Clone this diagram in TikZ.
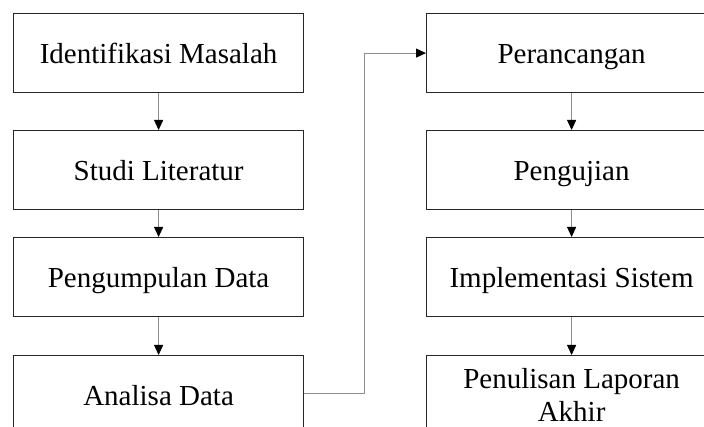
\documentclass[tikz,border=0pt]{standalone}
\usepackage{fontspec}
\setmainfont{Liberation Serif}
\usetikzlibrary{arrows.meta}
\begin{document}
\begin{tikzpicture}[x=1pt,y=-1pt,
  box/.style={draw=black!85,line width=1.2pt,minimum width=290pt,minimum height=79pt,
    inner sep=0pt,font=\fontsize{29}{33}\selectfont,align=center,anchor=north west,
    text height=20pt,text depth=0pt},
  conn/.style={draw=black!45,line width=0.9pt,-{Triangle[length=10pt,width=9pt,black]}}]
\useasboundingbox (0,0) rectangle (704,427);
\clip (0,0) rectangle (704,427);
\fill[white] (0,0) rectangle (704,427);
\node[box] (a) at (13,13) {Identifikasi Masalah};
\node[box] (b) at (13,130) {Studi Literatur};
\node[box] (c) at (13,237) {Pengumpulan Data};
\node[box] (d) at (13,355) {Analisa Data};
\node[box] (e) at (426,13) {Perancangan};
\node[box] (f) at (426,130) {Pengujian};
\node[box] (g) at (426,237) {Implementasi Sistem};
\node[box,text height=,text depth=] (h) at (426,355) {Penulisan Laporan\\Akhir};
\draw[conn] (a) -- (b);
\draw[conn] (b) -- (c);
\draw[conn] (c) -- (d);
\draw[conn] (e) -- (f);
\draw[conn] (f) -- (g);
\draw[conn] (g) -- (h);
\coordinate (k1) at (364.5,393);
\draw[conn] (d.east |- k1) -- (k1) |- (e.west);
\end{tikzpicture}
\end{document}
